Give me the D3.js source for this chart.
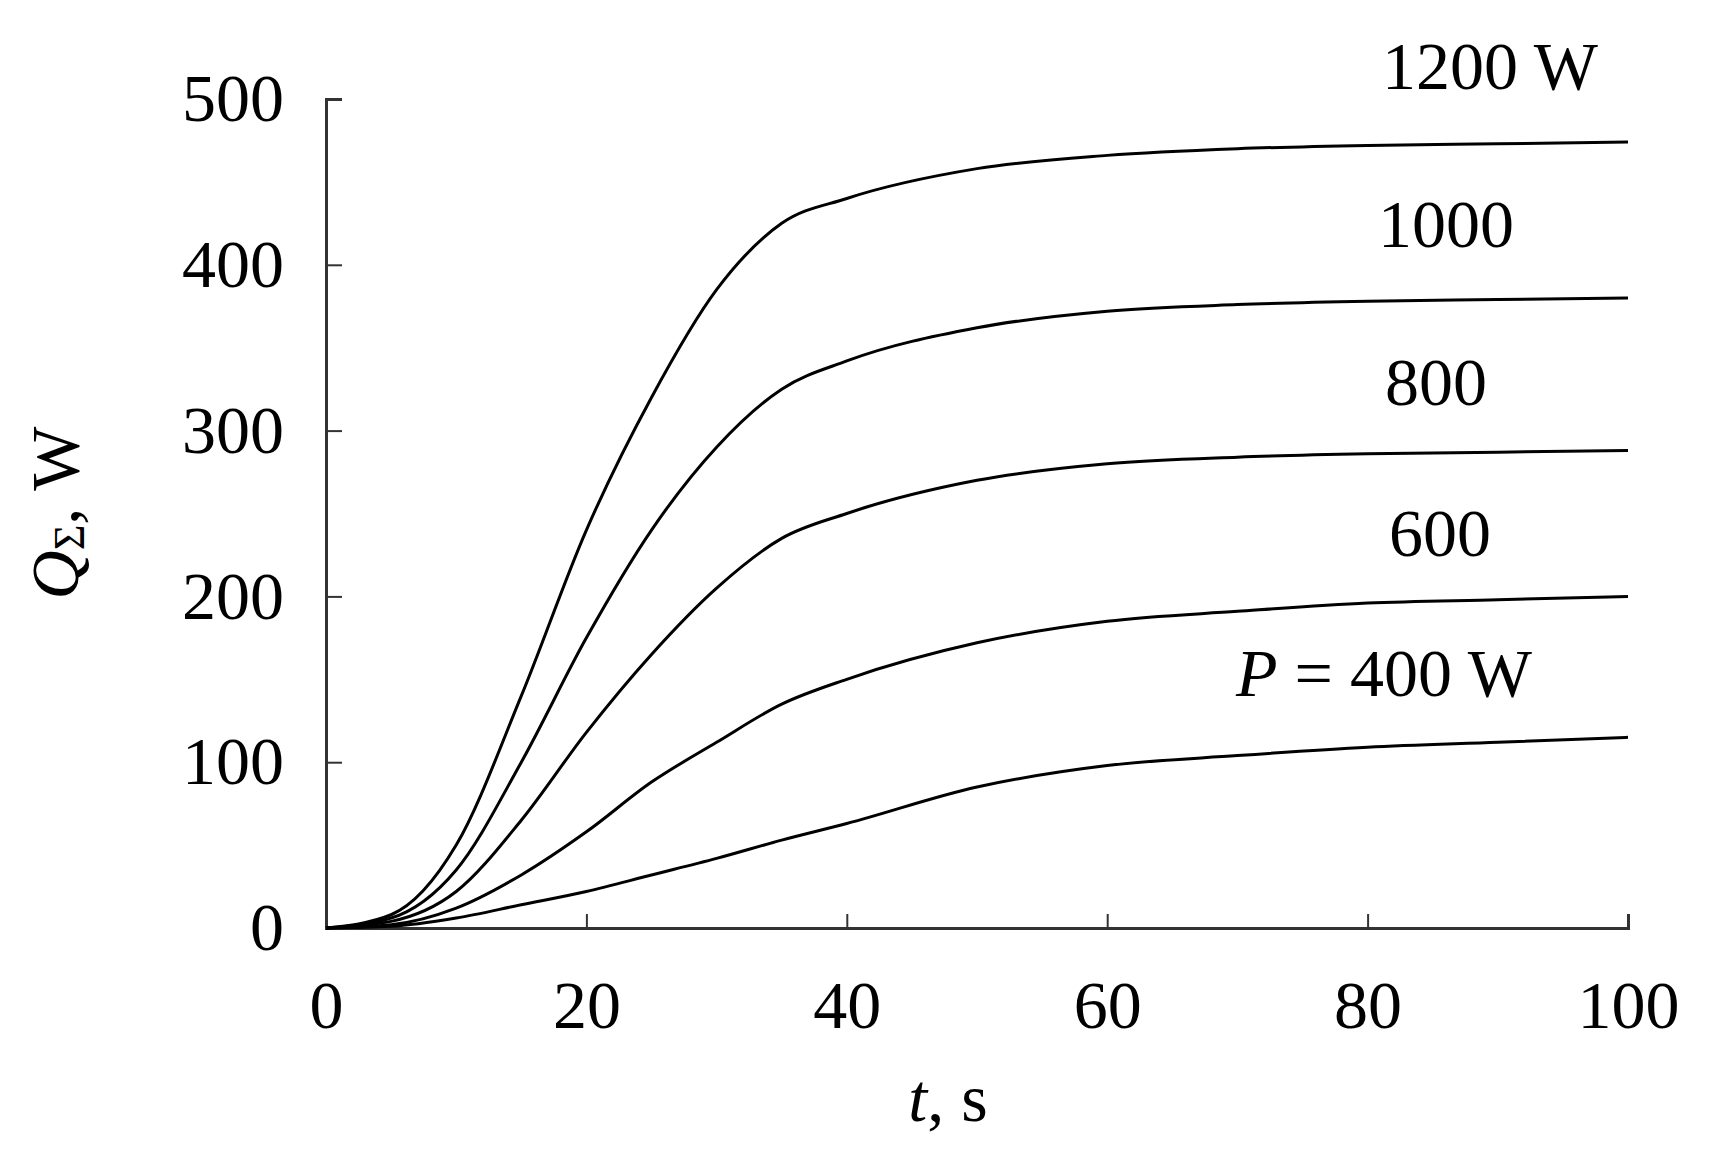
<!DOCTYPE html>
<html><head><meta charset="utf-8">
<script src="https://cdn.jsdelivr.net/npm/d3@7"></script>
<style>body{margin:0;background:#fff}text{font-family:"Liberation Serif","Times New Roman",serif;fill:#000}</style>
</head><body><svg id="c" width="1710" height="1153"></svg>
<script>
const t = [0,5,10,15,20,25,30,35,40,50,60,70,80,90,100];
const q400  = [0,1,6,14,22,32,42,53,63,85,98,104,109,112,115];
const q600  = [0,2,12,32,58,88,112,135,150,172,185,191,196,198,200];
const q800  = [0,4,22,65,118,165,205,235,250,270,280,284,286,287,288];
const q1000 = [0,6,35,100,175,240,290,325,342,362,372,376,378,379,380];
const q1200 = [0,8,50,140,240,320,385,425,440,458,466,470,472,473,474];
const series = [q400,q600,q800,q1000,q1200];
const labels = [
 {txt:["P"," = 400 W"], x:1384, y:680},
 {txt:["","600"], x:1440, y:540},
 {txt:["","800"], x:1436, y:389},
 {txt:["","1000"], x:1446, y:231},
 {txt:["","1200 W"], x:1490, y:73}];
const xTicks=[0,20,40,60,80,100], yTicks=[0,100,200,300,400,500];

const svg=d3.select("#c");
const x=d3.scaleLinear().domain([0,100]).range([326,1628]);
const y=d3.scaleLinear().domain([0,500]).range([928,99]);
const ax=svg.append("g").attr("transform","translate(0,928)")
 .call(d3.axisBottom(x).tickValues(xTicks).tickSize(-14).tickPadding(52));
const ay=svg.append("g").attr("transform","translate(326,0)")
 .call(d3.axisLeft(y).tickValues(yTicks).tickSize(-16).tickPadding(42));
[ax,ay].forEach(g=>{g.select(".domain").attr("stroke","#333").attr("stroke-width",3);
 g.selectAll(".tick line").attr("stroke","#333").attr("stroke-width",2);
 g.selectAll("text").attr("font-size",68).attr("font-family","Liberation Serif");});
ax.selectAll("text").attr("dy","0.71em");
const line=d3.line().x((d,i)=>x(t[i])).y(d=>y(d)).curve(d3.curveMonotoneX);
series.forEach(s=>svg.append("path").attr("d",line(s)).attr("fill","none").attr("stroke","#000").attr("stroke-width",3));
labels.forEach(l=>{const tx=svg.append("text").attr("x",l.x).attr("y",l.y).attr("text-anchor","middle")
 .attr("dominant-baseline","middle").attr("font-size",68);
 if(l.txt[0]) tx.append("tspan").attr("font-style","italic").text(l.txt[0]);
 tx.append("tspan").text(l.txt[1]);});
const xl=svg.append("text").attr("x",948).attr("y",1105).attr("text-anchor","middle").attr("dominant-baseline","middle").attr("font-size",68);
xl.append("tspan").attr("font-style","italic").text("t");xl.append("tspan").text(", s");
const yl=svg.append("text").attr("transform","translate(62,513) rotate(-90)").attr("text-anchor","middle").attr("dominant-baseline","middle").attr("font-size",68);
yl.append("tspan").attr("font-style","italic").text("Q");
yl.append("tspan").attr("font-size",44).attr("dy",12).text("Σ");
yl.append("tspan").attr("dy",-12).text(", W");
</script></body></html>
